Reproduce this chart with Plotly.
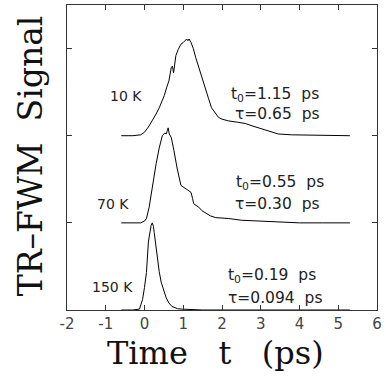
import plotly.graph_objects as go

# ---- data (time in ps, signal relative to each trace's baseline) ----
t_10K = [-0.6, -0.3, -0.1, 0.0, 0.1, 0.2, 0.3, 0.38, 0.45, 0.51, 0.57, 0.63, 0.69, 0.72, 0.75,
         0.78, 0.81, 0.87, 0.94, 1.0, 1.05, 1.09, 1.12, 1.15, 1.2, 1.26, 1.32, 1.38, 1.45, 1.52,
         1.58, 1.65, 1.73, 1.82, 1.91, 2.0, 2.17, 2.4, 2.6, 2.8, 3.0, 3.2, 3.45, 3.8, 4.3, 4.8, 5.3]
s_10K = [0, 0, 0.01, 0.04, 0.10, 0.17, 0.25, 0.32, 0.39, 0.46, 0.55, 0.63, 0.78, 0.80, 0.72,
         0.85, 0.92, 0.99, 1.05, 1.07, 1.09, 1.11, 1.09, 1.11, 1.07, 1.0, 0.90, 0.81, 0.71, 0.62,
         0.52, 0.43, 0.32, 0.26, 0.21, 0.19, 0.17, 0.155, 0.14, 0.11, 0.08, 0.05, 0.02, 0.01, 0.005, 0, 0]

t_70K = [-0.6, -0.3, -0.1, 0.0, 0.05, 0.12, 0.2, 0.3, 0.38, 0.46, 0.52, 0.56, 0.59, 0.61, 0.64,
         0.69, 0.76, 0.84, 0.94, 1.0, 1.07, 1.14, 1.2, 1.24, 1.27, 1.33, 1.4, 1.48, 1.58, 1.7,
         1.84, 2.0, 2.17, 2.5, 3.0, 3.5, 4.0, 4.6, 5.3]
s_70K = [0, 0, 0.0, 0.02, 0.05, 0.18, 0.41, 0.68, 0.86, 1.0, 1.03, 1.02, 1.06, 1.09, 1.02,
         0.98, 0.83, 0.63, 0.43, 0.41, 0.39, 0.37, 0.35, 0.28, 0.22, 0.2, 0.18, 0.14, 0.11, 0.08,
         0.06, 0.055, 0.05, 0.03, 0.02, 0.01, 0.0, 0, 0]

t_150K = [-0.6, -0.3, -0.13, -0.05, 0.0, 0.05, 0.1, 0.14, 0.17, 0.2, 0.23, 0.25, 0.29, 0.33,
          0.38, 0.43, 0.5, 0.56, 0.63, 0.71, 0.85, 0.97, 1.5, 2.5, 3.5, 4.5, 5.3]
s_150K = [0, 0, 0.01, 0.12, 0.26, 0.43, 0.78, 0.92, 0.97, 1.0, 0.96, 0.89, 0.74, 0.59,
          0.44, 0.32, 0.21, 0.14, 0.08, 0.04, 0.015, 0.01, 0, 0, 0, 0, 0]

temps = ["10 K", "70 K", "150 K"]
offsets = [2, 1, 0]
t0_labels = ["1.15", "0.55", "0.19"]
tau_labels = ["0.65", "0.30", "0.094"]
x_ticks = [-2, -1, 0, 1, 2, 3, 4, 5, 6]

fig = go.Figure()
for tt, ss, off in [(t_10K, s_10K, offsets[0]), (t_70K, s_70K, offsets[1]), (t_150K, s_150K, offsets[2])]:
    fig.add_trace(go.Scatter(x=tt, y=[v + off for v in ss], mode="lines",
                             line=dict(color="black", width=1), showlegend=False,
                             hoverinfo="skip"))

NB = "\u00a0"
label_font = dict(family="DejaVu Sans", size=14, color="#222")
big_font = dict(family="DejaVu Sans", size=15.5, color="#222")
temp_pos = [(-0.47, 2.46), (-0.82, 1.22), (-0.82, 0.26)]
t0_pos = [(3.37, 2.47), (3.5, 1.46), (3.29, 0.39)]
tau_pos = [(3.42, 2.25), (3.44, 1.22), (3.37, 0.14)]
for i in range(3):
    fig.add_annotation(x=temp_pos[i][0], y=temp_pos[i][1], text=temps[i], showarrow=False,
                       font=label_font, xanchor="center", yanchor="middle")
    fig.add_annotation(x=t0_pos[i][0], y=t0_pos[i][1],
                       text="t<sub>0</sub>=" + t0_labels[i] + NB + NB + "ps",
                       showarrow=False, font=big_font, xanchor="center", yanchor="middle")
    fig.add_annotation(x=tau_pos[i][0], y=tau_pos[i][1],
                       text="\u03c4=" + tau_labels[i] + NB + NB + "ps",
                       showarrow=False, font=big_font, xanchor="center", yanchor="middle")

# axis titles
fig.add_annotation(xref="paper", yref="paper", x=0.479, y=-0.14,
                   text="Time" + NB * 3 + "t" + NB * 3 + "(ps)",
                   showarrow=False, font=dict(family="DejaVu Serif", size=32, color="#111"),
                   xanchor="center", yanchor="middle")
fig.add_annotation(xref="paper", yref="paper", x=-0.115, y=0.505,
                   text="TR\u2013FWM" + NB * 2 + "Signal",
                   textangle=-90, showarrow=False,
                   font=dict(family="DejaVu Serif", size=33, color="#111"),
                   xanchor="center", yanchor="middle")

fig.update_xaxes(range=[-2, 6], tickvals=x_ticks, ticktext=[str(v) for v in x_ticks],
                 ticks="inside", ticklen=5, tickcolor="#333", showline=True, linecolor="#333",
                 linewidth=1, mirror="ticks", showgrid=False, zeroline=False,
                 tickfont=dict(family="DejaVu Sans", size=15, color="#444"))
fig.update_yaxes(range=[0, 3.5], tickvals=[0, 1, 2, 3], showticklabels=False,
                 ticks="inside", ticklen=5, tickcolor="#333", showline=True, linecolor="#333",
                 linewidth=1, mirror="ticks", showgrid=False, zeroline=False)

fig.update_layout(width=386, height=385, margin=dict(l=67, r=6, t=4, b=75),
                  plot_bgcolor="white", paper_bgcolor="white")

fig.write_html("out.html")
